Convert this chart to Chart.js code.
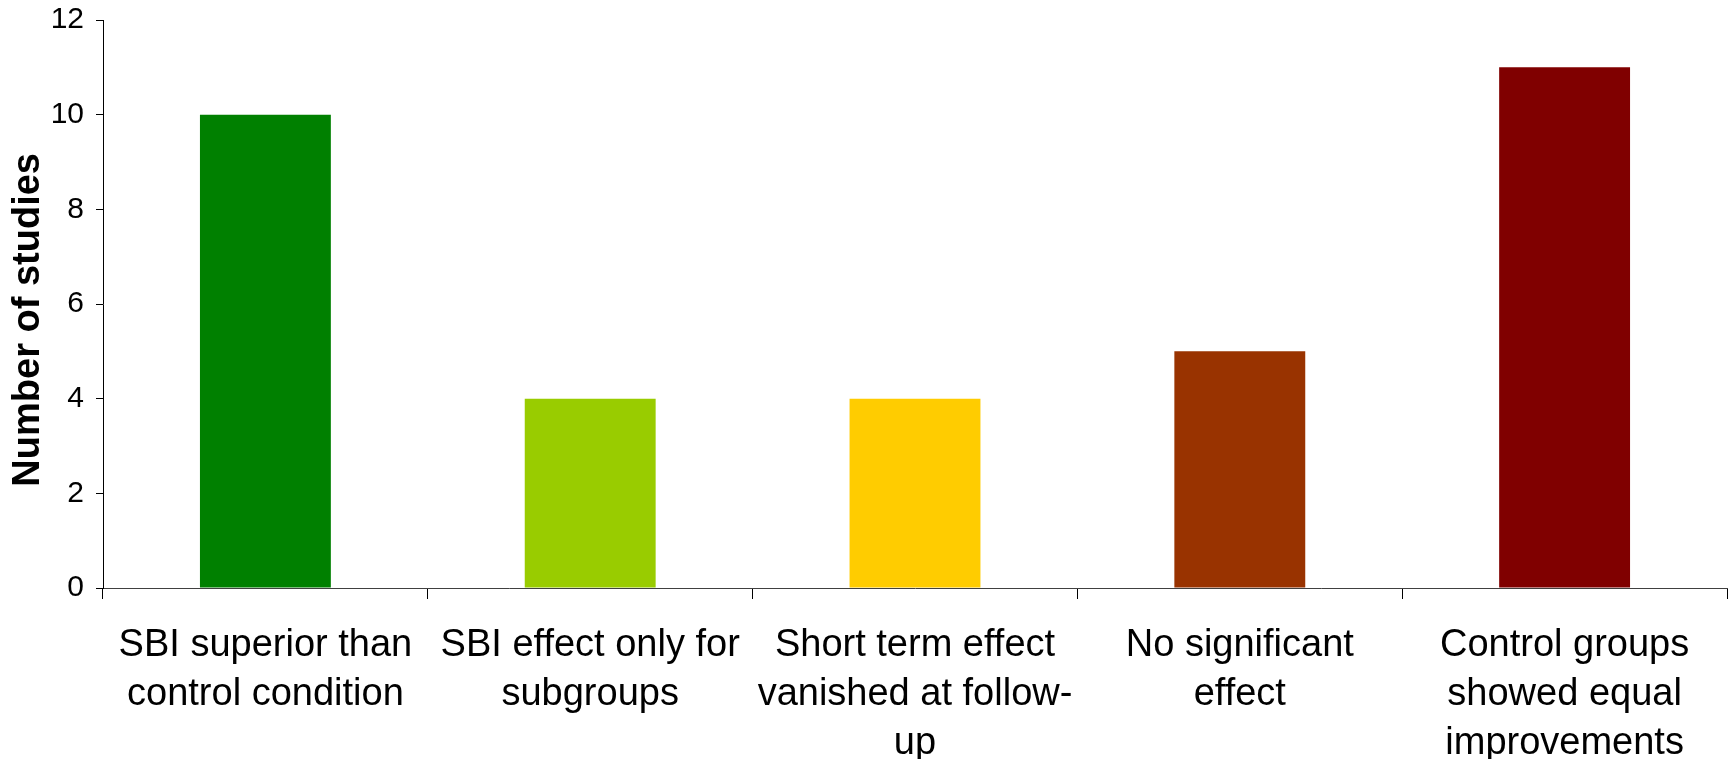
<!DOCTYPE html>
<html>
<head>
<meta charset="utf-8">
<title>Number of studies by outcome</title>
<script src="https://cdn.jsdelivr.net/npm/chart.js@4.4.0/dist/chart.umd.min.js"></script>
<style>
  html, body { margin: 0; padding: 0; background: #fff; }
  #wrap { width: 1732px; height: 759px; }
</style>
</head>
<body>
<div id="wrap"><canvas id="chart" width="1732" height="759"></canvas></div>
<script>
// outcome categories (multi-line labels as drawn under the axis)
var CATEGORIES = [
  ['SBI superior than', 'control condition'],
  ['SBI effect only for', 'subgroups'],
  ['Short term effect', 'vanished at follow-', 'up'],
  ['No significant', 'effect'],
  ['Control groups', 'showed equal', 'improvements']
];
var STUDY_COUNTS = [10, 4, 4, 5, 11];
var BAR_COLORS = ['#008000', '#99cc00', '#ffcc00', '#993300', '#800000'];
var Y_TICKS = [0, 2, 4, 6, 8, 10, 12];

var FONT = 'Arial, "Liberation Sans", sans-serif';

new Chart(document.getElementById('chart'), {
  type: 'bar',
  data: {
    labels: CATEGORIES,
    datasets: [{
      data: STUDY_COUNTS,
      backgroundColor: BAR_COLORS,
      borderWidth: 0,
      barPercentage: 0.403,
      categoryPercentage: 1
    }]
  },
  options: {
    responsive: false,
    animation: false,
    layout: { padding: { top: 20, right: 5, left: 0, bottom: 0 } },
    plugins: {
      legend: { display: false },
      tooltip: { enabled: false }
    },
    scales: {
      x: {
        grid: {
          offset: true,
          drawOnChartArea: false,
          tickLength: 11,
          color: '#000',
          lineWidth: 1
        },
        border: { display: true, color: '#404040', width: 1 },
        ticks: {
          color: '#000',
          font: { family: FONT, size: 38, lineHeight: 1.29 },
          padding: 22,
          maxRotation: 0,
          autoSkip: false
        },
        afterFit: function (scale) {
          scale.height = 171;
          scale.paddingLeft = 0;
          scale.paddingRight = 0;
        }
      },
      y: {
        min: 0,
        max: 12,
        afterBuildTicks: function (scale) {
          scale.ticks = Y_TICKS.map(function (v) { return { value: v }; });
        },
        grid: {
          drawOnChartArea: false,
          tickLength: 7,
          color: '#000',
          lineWidth: 1
        },
        border: { display: true, color: '#000', width: 1 },
        ticks: {
          color: '#000',
          font: { family: FONT, size: 30 },
          padding: 12
        },
        title: {
          display: true,
          // trailing spaces nudge the rotated title a little lower
          text: 'Number of studies   ',
          color: '#000',
          font: { family: FONT, size: 38, weight: 'bold', lineHeight: 1.2 },
          padding: { top: 6, bottom: 0 }
        },
        afterFit: function (scale) {
          scale.width = 103;
          // let the layout padding alone decide where the plot starts
          scale.paddingTop = 0;
          scale.paddingBottom = 0;
        }
      }
    }
  }
});
</script>
</body>
</html>
